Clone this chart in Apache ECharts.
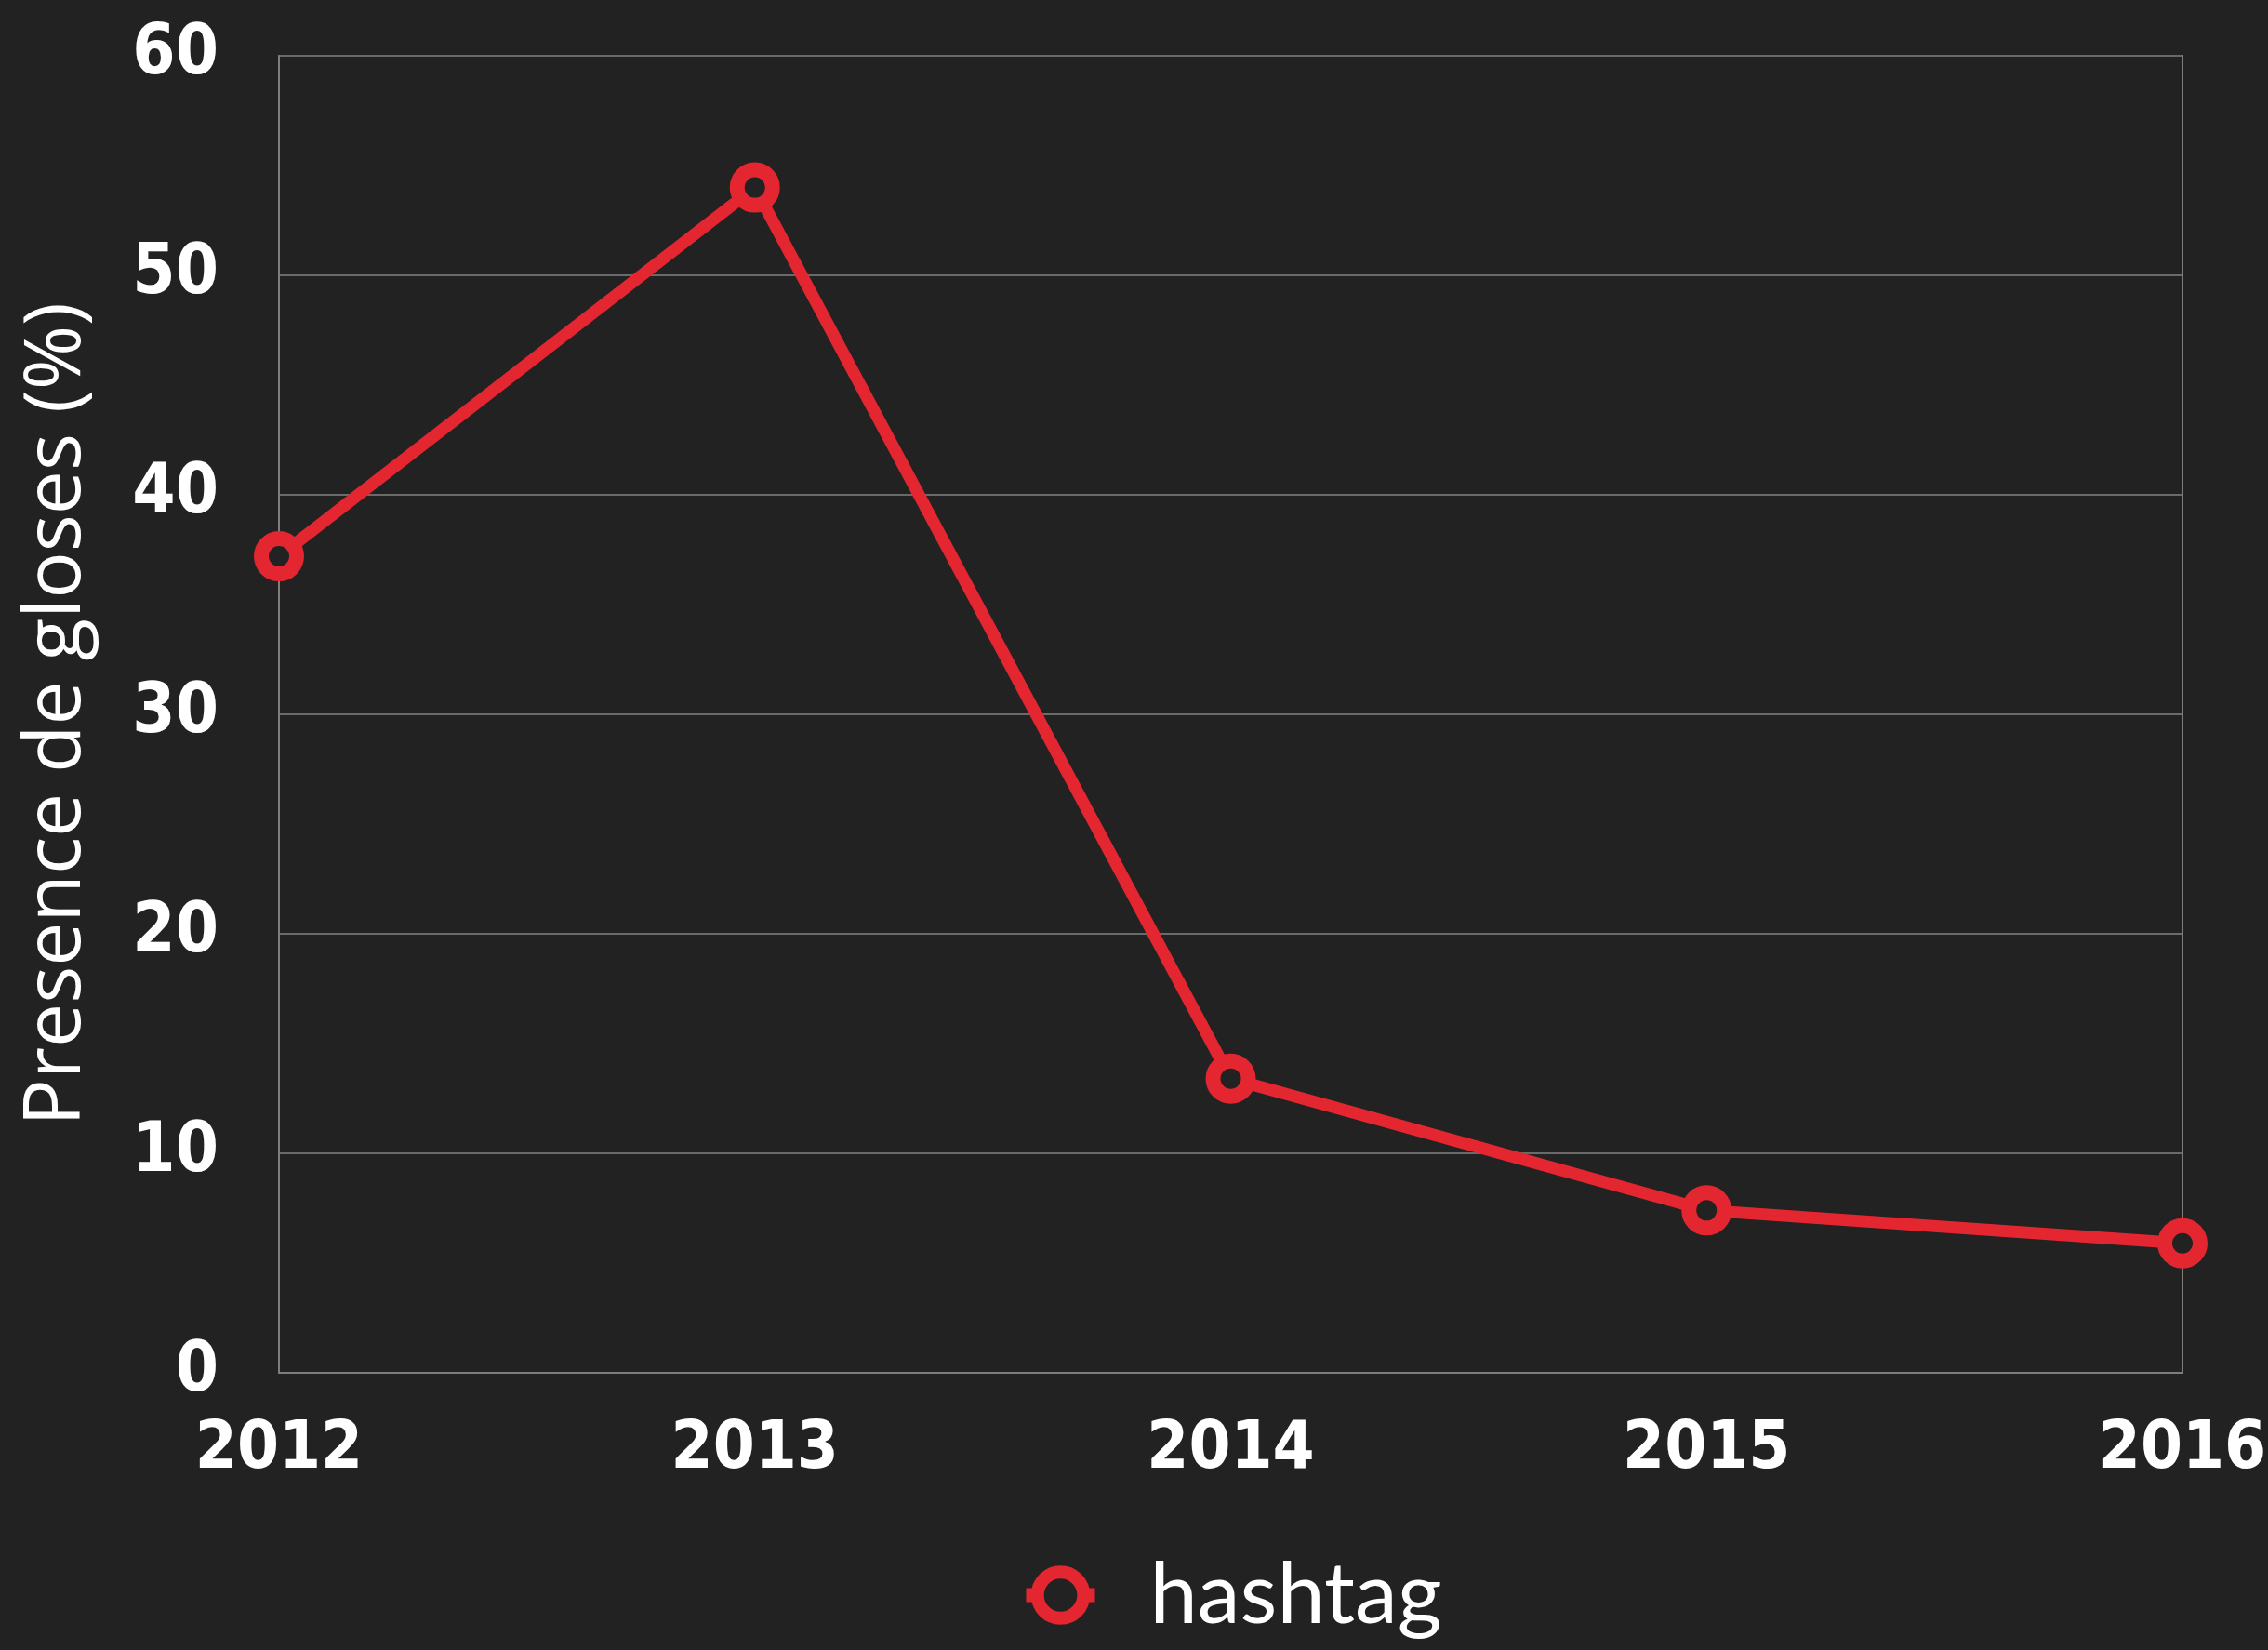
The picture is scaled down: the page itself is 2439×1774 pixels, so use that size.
<!DOCTYPE html>
<html>
<head>
<meta charset="utf-8">
<script src="https://cdn.jsdelivr.net/npm/echarts@6/dist/echarts.min.js"></script>
<style>
html,body{margin:0;padding:0;background:#222222;}
#chart{width:2439px;height:1774px;}
</style>
</head>
<body>
<div id="chart"></div>
<script>
const years = ['2012', '2013', '2014', '2015', '2016'];
const hashtagValues = [37.2, 54.0, 13.4, 7.4, 5.9];
const seriesName = 'hashtag';
const yAxisTitle = 'Presence de gloses (%)';
const yTicks = { min: 0, max: 60, interval: 10 };

const red = '#E3262F';
const tickFont = "'Liberation Sans Narrow', 'DejaVu Sans Condensed', 'Roboto Condensed', Roboto, sans-serif";
const chart = echarts.init(document.getElementById('chart'));
chart.setOption({
  backgroundColor: '#222222',
  animation: false,
  grid: {
    left: 300, right: 92, top: 60, bottom: 298,
    containLabel: false,
    outerBoundsMode: 'none',
    show: true, borderColor: '#7d7d7d', borderWidth: 2, backgroundColor: 'transparent'
  },
  legend: {
    data: [seriesName],
    bottom: 8,
    left: 1091,
    itemWidth: 74,
    itemHeight: 62,
    itemGap: 20,
    itemStyle: { borderWidth: 14 },
    lineStyle: { width: 15 },
    textStyle: { color: '#ffffff', fontSize: 92, fontFamily: 'Lato', padding: [0, 0, 0, 54] }
  },
  xAxis: {
    type: 'category',
    data: years,
    boundaryGap: false,
    axisLine: { show: true, lineStyle: { color: '#7d7d7d', width: 2 } },
    axisTick: { show: false },
    axisLabel: {
      color: '#ffffff', fontSize: 72, fontFamily: tickFont, fontWeight: 'bold',
      margin: 47
    },
    splitLine: { show: false }
  },
  yAxis: {
    type: 'value',
    min: yTicks.min, max: yTicks.max, interval: yTicks.interval,
    name: yAxisTitle,
    nameLocation: 'middle',
    nameGap: 196,
    nameTextStyle: { color: '#ffffff', fontSize: 84, fontFamily: 'Open Sans' },
    axisLine: { show: true, lineStyle: { color: '#7d7d7d', width: 2 } },
    axisTick: { show: false },
    axisLabel: {
      color: '#ffffff', fontSize: 74, fontFamily: tickFont, fontWeight: 'bold',
      margin: 65
    },
    splitLine: { show: true, lineStyle: { color: '#6a6a6a', width: 2 } }
  },
  series: [{
    name: seriesName,
    type: 'line',
    data: hashtagValues,
    symbol: 'circle',
    symbolSize: 38,
    lineStyle: { color: red, width: 13 },
    itemStyle: { color: '#222222', borderColor: red, borderWidth: 16 },
    z: 3
  }]
});
</script>
</body>
</html>
